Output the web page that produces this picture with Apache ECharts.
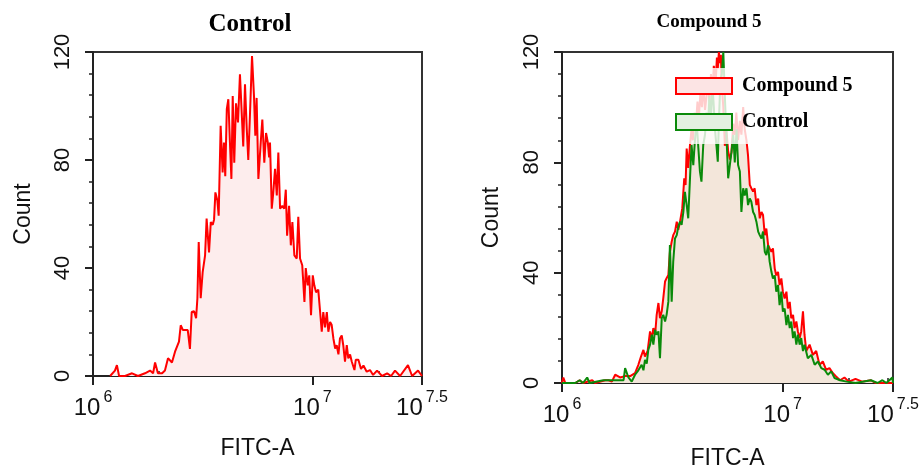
<!DOCTYPE html>
<html>
<head>
<meta charset="utf-8">
<script src="https://cdn.jsdelivr.net/npm/echarts@6/dist/echarts.min.js"></script>
<style>
  html, body { margin: 0; padding: 0; background: #fff; }
  #chart { width: 923px; height: 468px; }
</style>
</head>
<body>
<div id="chart"></div>
<script>
// FITC-A histograms, x in log10(intensity), y = event count
const controlLeft = [
  [6.078,0],[6.100,2],[6.109,4],[6.119,0],[6.146,0],[6.178,1],[6.205,0],[6.237,1],[6.260,2],[6.274,1],
  [6.283,5],[6.296,1],[6.315,1],[6.328,2],[6.342,6.6],[6.360,5],[6.374,9],[6.383,9],[6.392,12.7],[6.400,18.8],
  [6.410,17],[6.420,17],[6.432,17],[6.442,10],[6.450,23.7],[6.461,24],[6.470,21.4],[6.476,28.8],[6.482,49.6],[6.491,28.8],
  [6.500,38.5],[6.511,44.7],[6.518,58.3],[6.529,45.8],[6.537,57],[6.546,56],[6.552,58],[6.558,68],[6.567,65],[6.573,59.4],
  [6.582,92.7],[6.591,75.4],[6.597,86.5],[6.603,74],[6.610,98.8],[6.617,102.5],[6.625,85],[6.631,73],[6.637,103.7],[6.644,79],
  [6.652,101],[6.661,93.9],[6.670,111.7],[6.678,97.6],[6.685,85],[6.693,108],[6.701,91.6],[6.708,80],[6.716,97.6],[6.725,118.5],
  [6.734,103.7],[6.740,89],[6.746,103],[6.754,73],[6.766,88],[6.772,95],[6.781,79],[6.789,90],[6.797,86.5],[6.803,81],
  [6.807,86.5],[6.815,62],[6.822,68],[6.830,76.7],[6.838,66.9],[6.845,82.8],[6.853,62],[6.863,63],[6.872,62],[6.879,69],
  [6.885,52],[6.894,63],[6.902,48.4],[6.909,57],[6.918,44.7],[6.929,43.5],[6.936,59],[6.944,43.5],[6.954,41],[6.964,27.4],
  [6.970,40],[6.979,33.6],[6.986,37.3],[6.994,22.5],[7.002,37.3],[7.009,33.6],[7.017,31],[7.027,32],[7.035,32],[7.043,16.4],
  [7.050,23.7],[7.058,18],[7.066,23.7],[7.073,16.4],[7.081,20],[7.088,19],[7.096,13.9],[7.104,10.2],[7.111,11.4],[7.119,8],
  [7.126,13.9],[7.134,15],[7.141,11.4],[7.149,5.3],[7.157,11.4],[7.164,6.5],[7.172,8],[7.180,5.3],[7.192,2.2],[7.198,6],
  [7.210,6],[7.222,2.6],[7.233,3.9],[7.248,1.6],[7.263,2.2],[7.277,0.4],[7.295,2],[7.318,0],[7.341,1],[7.359,0],
  [7.377,2],[7.400,0],[7.436,4],[7.455,0],[7.482,2],[7.500,0]
];

const compound5 = [
  [6.000,0],[6.006,2],[6.015,0],[6.060,0],[6.080,1],[6.095,0],[6.137,1],[6.150,0],[6.196,1],[6.211,1],
  [6.226,0.5],[6.241,3],[6.263,2],[6.286,2.5],[6.309,2.5],[6.331,3.6],[6.346,6.6],[6.358,9.6],[6.369,12],[6.376,9.6],
  [6.388,11.6],[6.399,18.7],[6.407,16],[6.414,19.9],[6.422,17.5],[6.429,24.7],[6.437,29],[6.444,23.5],[6.452,26],[6.459,30.8],
  [6.467,36.8],[6.474,38],[6.482,39.2],[6.489,47.6],[6.497,51.2],[6.504,53.6],[6.512,54.9],[6.520,58.5],[6.527,55.5],[6.535,58.5],
  [6.545,63.3],[6.554,74.2],[6.560,71.8],[6.565,85],[6.572,78],[6.580,86.3],[6.587,92],[6.593,88],[6.600,98],[6.607,94],
  [6.614,102],[6.620,96],[6.627,105],[6.634,100],[6.641,108],[6.648,99],[6.655,104],[6.661,110],[6.668,102],[6.675,112],
  [6.682,106],[6.688,115],[6.697,110],[6.702,118],[6.706,114],[6.711,120],[6.715,116],[6.720,119],[6.724,108],[6.731,100],
  [6.738,86],[6.745,92],[6.753,84],[6.761,81],[6.768,83.7],[6.776,94],[6.783,90],[6.790,98],[6.798,88],[6.806,95],
  [6.813,90],[6.821,100],[6.828,92],[6.836,88],[6.843,82.5],[6.851,71.8],[6.858,70.6],[6.866,69.4],[6.873,70.6],[6.881,64.5],
  [6.889,66.9],[6.896,59.7],[6.904,62],[6.911,60.9],[6.919,53.6],[6.926,56],[6.934,50],[6.941,48.8],[6.949,47.6],[6.956,48.8],
  [6.964,41.5],[6.971,39],[6.979,40.3],[6.986,35.5],[6.994,37.9],[7.001,33.1],[7.009,30.6],[7.017,33.1],[7.024,27],[7.032,29.4],
  [7.039,23.5],[7.047,24.7],[7.054,19.9],[7.062,22.3],[7.069,18.7],[7.077,16.3],[7.084,18.7],[7.092,26],[7.099,17.5],[7.107,11.6],
  [7.122,13.9],[7.137,10.2],[7.152,11.6],[7.167,6.6],[7.182,7.8],[7.197,4.8],[7.212,5.4],[7.227,3.6],[7.242,2.4],[7.260,1],
  [7.280,2],[7.300,0.5],[7.330,1.5],[7.360,0.5],[7.400,1],[7.420,0],[7.500,0]
];

const controlRight = [
  [6.000,0],[6.060,0],[6.080,1],[6.095,0],[6.114,2],[6.125,0],[6.187,1],[6.196,0.5],[6.241,1],[6.279,1],
  [6.286,5.4],[6.301,2],[6.316,0.5],[6.331,3],[6.346,4.6],[6.361,6.6],[6.369,4.6],[6.376,8.4],[6.384,7],[6.391,12],
  [6.399,13.9],[6.407,17.5],[6.414,13.9],[6.422,19.3],[6.429,17.5],[6.437,18.7],[6.444,9],[6.452,23.5],[6.459,24.7],[6.467,22.3],
  [6.474,24.7],[6.482,29.5],[6.489,50],[6.497,29.5],[6.504,44],[6.512,52.4],[6.520,53.6],[6.527,56.7],[6.535,58.5],[6.542,57.3],
  [6.550,62],[6.557,69.3],[6.565,64.5],[6.572,59.7],[6.580,74.2],[6.587,86.3],[6.595,79],[6.602,87.5],[6.610,95],[6.617,86.3],
  [6.625,76.7],[6.632,73],[6.640,86.3],[6.648,90],[6.655,98],[6.661,92],[6.668,104],[6.675,96],[6.682,108],[6.688,100],
  [6.693,92],[6.700,86],[6.706,80.2],[6.711,95],[6.718,110],[6.724,112],[6.731,120],[6.738,104],[6.745,90],[6.753,74.2],
  [6.761,73.6],[6.768,83.7],[6.776,90],[6.783,80],[6.791,92],[6.798,79],[6.806,76.7],[6.813,62],[6.821,70.6],[6.828,68],
  [6.836,70.6],[6.843,64.5],[6.851,66.9],[6.858,65.7],[6.866,62],[6.873,60.9],[6.881,58.5],[6.889,54.9],[6.896,53.6],[6.904,52.4],
  [6.911,54.9],[6.919,47.6],[6.926,46.4],[6.934,50],[6.941,44],[6.949,40.3],[6.956,37.9],[6.964,39],[6.971,33.1],[6.979,35.5],
  [6.986,28.2],[6.994,33.1],[7.001,25.9],[7.009,27],[7.017,21],[7.024,24.7],[7.032,19.9],[7.039,22.3],[7.047,16.3],[7.054,18.7],
  [7.062,13.9],[7.069,17.5],[7.077,13.9],[7.084,16.3],[7.092,11.6],[7.099,13.9],[7.114,9],[7.130,10.2],[7.145,6.6],[7.160,7.8],
  [7.175,5.4],[7.190,4.8],[7.205,3],[7.220,4.2],[7.235,1.8],[7.260,1],[7.290,0.5],[7.330,0],[7.400,1],[7.430,0],
  [7.452,1],[7.470,0],[7.497,2],[7.500,0]
];

const xMajorTicks = [6, 7, 7.5];
const xMinorIntensity = [2e6, 3e6, 4e6, 5e6, 6e6, 7e6, 8e6, 9e6, 2e7, 3e7];
const xMinorTicks = xMinorIntensity.map(v => Math.log10(v));
const yTicks = [0, 40, 80, 120];
const titles = ['Control', 'Compound 5'];
const legendNames = ['Compound 5', 'Control'];

const SANS = 'Liberation Sans, Arial, sans-serif';
const SERIF = 'Liberation Serif, Times New Roman, serif';
const AXIS_COLOR = '#222';

const chart = echarts.init(document.getElementById('chart'), null, { renderer: 'canvas' });

function mainX(gridIndex, nameGap) {
  return {
    type: 'value', gridIndex, min: 6, max: 7.5,
    axisLine: { show: true, onZero: false, lineStyle: { color: AXIS_COLOR, width: 2 } },
    axisTick: { show: true, customValues: xMajorTicks, length: 9, lineStyle: { color: AXIS_COLOR, width: 2 } },
    axisLabel: {
      customValues: xMajorTicks, margin: 20,
      formatter: v => '{b|10}{s|' + v + '}',
      rich: {
        b: { fontFamily: SANS, fontSize: 24, color: '#111', verticalAlign: 'bottom', lineHeight: 24 },
        s: { fontFamily: SANS, fontSize: 16, color: '#111', verticalAlign: 'bottom', lineHeight: 16, padding: [0, 0, 14, 3] }
      }
    },
    splitLine: { show: false },
    name: 'FITC-A', nameLocation: 'middle', nameGap,
    nameTextStyle: { fontFamily: SANS, fontSize: 23, color: '#111' }
  };
}
function minorX(gridIndex) {
  return {
    type: 'value', gridIndex, min: 6, max: 7.5,
    axisLine: { show: false },
    axisTick: { show: true, customValues: xMinorTicks, length: 5, lineStyle: { color: AXIS_COLOR, width: 1.5 } },
    axisLabel: { show: false },
    splitLine: { show: false }
  };
}
function yAx(gridIndex, nameGap) {
  return {
    type: 'value', gridIndex, min: yTicks[0], max: yTicks[yTicks.length - 1], interval: 40,
    axisLine: { show: true, lineStyle: { color: AXIS_COLOR, width: 2 } },
    axisTick: { show: true, length: 8, lineStyle: { color: AXIS_COLOR, width: 2 } },
    minorTick: { show: true, splitNumber: 5, length: 4, lineStyle: { color: AXIS_COLOR, width: 1.5 } },
    axisLabel: { rotate: 90, margin: 19, fontFamily: SANS, fontSize: 22, color: '#111' },
    splitLine: { show: false },
    name: 'Count', nameLocation: 'middle', nameGap,
    nameTextStyle: { fontFamily: SANS, fontSize: 23, color: '#111' }
  };
}

function trace(name, data, color, xi, yi, z) {
  return {
    name, type: 'line', data, xAxisIndex: xi, yAxisIndex: yi, z,
    showSymbol: false, symbol: 'none', animation: false,
    lineStyle: { color, width: 2 }, itemStyle: { color }
  };
}
function fill(name, data, color, xi, yi) {
  return {
    name, type: 'line', data, xAxisIndex: xi, yAxisIndex: yi, z: 1,
    showSymbol: false, symbol: 'none', animation: false, silent: true,
    lineStyle: { width: 0, opacity: 0 }, areaStyle: { color, opacity: 1 }
  };
}

chart.setOption({
  backgroundColor: '#fff',
  animation: false,
  title: [
    { text: titles[0], left: 250, top: 12, textAlign: 'center', padding: 0,
      textStyle: { fontFamily: SERIF, fontWeight: 'bold', fontSize: 25, color: '#000' } },
    { text: titles[1], left: 709, top: 13, textAlign: 'center', padding: 0,
      textStyle: { fontFamily: SERIF, fontWeight: 'bold', fontSize: 19, color: '#000' } }
  ],
  grid: [
    { left: 93, top: 52, width: 329, height: 324, show: true, borderColor: '#333', borderWidth: 2, backgroundColor: 'transparent', outerBoundsMode: 'none' },
    { left: 562, top: 52, width: 331, height: 331, show: true, borderColor: '#333', borderWidth: 2, backgroundColor: 'transparent', outerBoundsMode: 'none' }
  ],
  xAxis: [mainX(0, 61), minorX(0), mainX(1, 64), minorX(1)],
  yAxis: [yAx(0, 58), yAx(1, 59)],
  legend: {
    z: 20, orient: 'vertical', left: 665, top: 68, padding: [8, 10, 12, 10],
    backgroundColor: 'rgba(255,255,255,0.8)',
    icon: 'rect', itemWidth: 56, itemHeight: 16, itemGap: 16, selectedMode: false,
    textStyle: { fontFamily: SERIF, fontWeight: 'bold', fontSize: 20, color: '#000', padding: [0, 0, 0, 5] },
    data: [
      { name: legendNames[0], itemStyle: { color: '#fce4e4', borderColor: '#ff0000', borderWidth: 2 } },
      { name: legendNames[1], itemStyle: { color: '#e3f0e1', borderColor: '#0a8a0a', borderWidth: 2 } }
    ]
  },
  series: [
    fill('left fill', controlLeft, '#fdeded', 0, 0),
    trace('Control (left)', controlLeft, '#ff0000', 0, 0, 3),
    fill('compound fill', compound5, '#f3e6da', 2, 1),
    fill('control fill', controlRight, '#f3e6da', 2, 1),
    trace('Compound 5', compound5, '#ff0000', 2, 1, 3),
    trace('Control', controlRight, '#0a8a0a', 2, 1, 4)
  ]
});
window.addEventListener('resize', () => chart.resize());
</script>
</body>
</html>
